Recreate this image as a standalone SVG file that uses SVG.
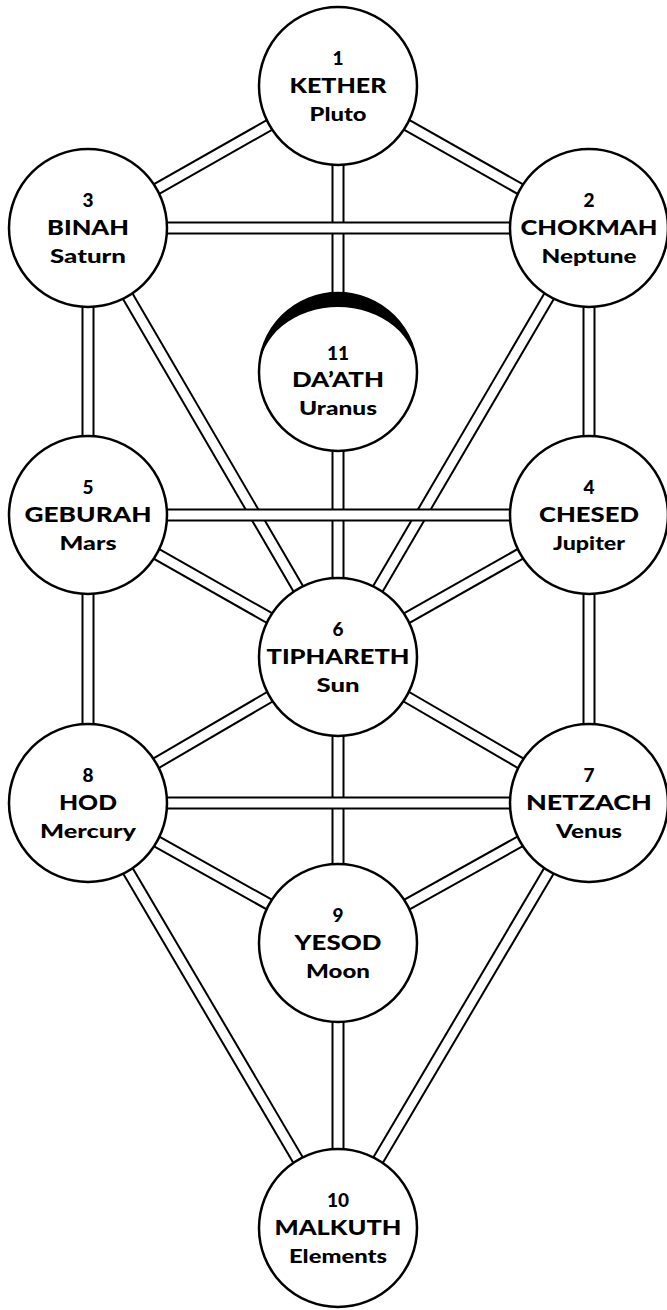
<svg xmlns="http://www.w3.org/2000/svg" width="667" height="1310" viewBox="0 0 667 1310">
<style>
.o{stroke:#000;stroke-width:13;fill:none}
.i{stroke:#fff;stroke-width:9;fill:none}
.n{fill:#fff;stroke:#000;stroke-width:2.5}
text{font-family:Lato,"Open Sans","DejaVu Sans",sans-serif;font-weight:900;text-anchor:middle;fill:#000}
.num{font-size:19px}
.nm{font-size:21px}
.pl{font-size:19px}
</style>
<rect width="667" height="1310" fill="#fff"/>
<g id="connectors">
<line class="o" x1="338" y1="86" x2="88" y2="228"/><line class="i" x1="338" y1="86" x2="88" y2="228"/>
<line class="o" x1="338" y1="86" x2="589" y2="228"/><line class="i" x1="338" y1="86" x2="589" y2="228"/>
<line class="o" x1="338" y1="86" x2="338" y2="657"/><line class="i" x1="338" y1="86" x2="338" y2="657"/>
<line class="o" x1="88" y1="228" x2="88" y2="515"/><line class="i" x1="88" y1="228" x2="88" y2="515"/>
<line class="o" x1="88" y1="228" x2="338" y2="657"/><line class="i" x1="88" y1="228" x2="338" y2="657"/>
<line class="o" x1="589" y1="228" x2="589" y2="515"/><line class="i" x1="589" y1="228" x2="589" y2="515"/>
<line class="o" x1="589" y1="228" x2="338" y2="657"/><line class="i" x1="589" y1="228" x2="338" y2="657"/>
<line class="o" x1="88" y1="515" x2="338" y2="657"/><line class="i" x1="88" y1="515" x2="338" y2="657"/>
<line class="o" x1="589" y1="515" x2="338" y2="657"/><line class="i" x1="589" y1="515" x2="338" y2="657"/>
<line class="o" x1="88" y1="515" x2="88" y2="803"/><line class="i" x1="88" y1="515" x2="88" y2="803"/>
<line class="o" x1="589" y1="515" x2="589" y2="803"/><line class="i" x1="589" y1="515" x2="589" y2="803"/>
<line class="o" x1="338" y1="657" x2="88" y2="803"/><line class="i" x1="338" y1="657" x2="88" y2="803"/>
<line class="o" x1="338" y1="657" x2="589" y2="803"/><line class="i" x1="338" y1="657" x2="589" y2="803"/>
<line class="o" x1="338" y1="657" x2="338" y2="943"/><line class="i" x1="338" y1="657" x2="338" y2="943"/>
<line class="o" x1="88" y1="803" x2="338" y2="943"/><line class="i" x1="88" y1="803" x2="338" y2="943"/>
<line class="o" x1="589" y1="803" x2="338" y2="943"/><line class="i" x1="589" y1="803" x2="338" y2="943"/>
<line class="o" x1="88" y1="803" x2="338" y2="1228"/><line class="i" x1="88" y1="803" x2="338" y2="1228"/>
<line class="o" x1="589" y1="803" x2="338" y2="1228"/><line class="i" x1="589" y1="803" x2="338" y2="1228"/>
<line class="o" x1="338" y1="943" x2="338" y2="1228"/><line class="i" x1="338" y1="943" x2="338" y2="1228"/>
<line class="o" x1="88" y1="228" x2="589" y2="228"/><line class="i" x1="88" y1="228" x2="589" y2="228"/>
<line class="o" x1="88" y1="515" x2="589" y2="515"/><line class="i" x1="88" y1="515" x2="589" y2="515"/>
<line class="o" x1="88" y1="803" x2="589" y2="803"/><line class="i" x1="88" y1="803" x2="589" y2="803"/>
</g>
<g id="kether"><circle class="n" cx="338" cy="86" r="79"/>
<text class="num" x="338" y="65">1</text><text class="nm" x="338" y="93" textLength="97" lengthAdjust="spacingAndGlyphs">KETHER</text><text class="pl" x="338" y="121" textLength="57" lengthAdjust="spacingAndGlyphs">Pluto</text></g>
<g id="chokmah"><circle class="n" cx="589" cy="228" r="79"/>
<text class="num" x="589" y="207">2</text><text class="nm" x="589" y="235" textLength="137" lengthAdjust="spacingAndGlyphs">CHOKMAH</text><text class="pl" x="589" y="263" textLength="95" lengthAdjust="spacingAndGlyphs">Neptune</text></g>
<g id="binah"><circle class="n" cx="88" cy="228" r="79"/>
<text class="num" x="88" y="207">3</text><text class="nm" x="88" y="235" textLength="82" lengthAdjust="spacingAndGlyphs">BINAH</text><text class="pl" x="88" y="263" textLength="76" lengthAdjust="spacingAndGlyphs">Saturn</text></g>
<g id="daath"><circle class="n" cx="338" cy="372" r="79"/>
<path d="M259,372 A79,79 0 0 1 417,372 A79,65 0 0 0 259,372 Z" fill="#000"/>
<text class="num" x="338" y="360">11</text><text class="nm" x="338" y="387" textLength="92" lengthAdjust="spacingAndGlyphs">DA’ATH</text><text class="pl" x="338" y="415" textLength="78" lengthAdjust="spacingAndGlyphs">Uranus</text></g>
<g id="geburah"><circle class="n" cx="88" cy="515" r="79"/>
<text class="num" x="88" y="494">5</text><text class="nm" x="88" y="522" textLength="127" lengthAdjust="spacingAndGlyphs">GEBURAH</text><text class="pl" x="88" y="550" textLength="57" lengthAdjust="spacingAndGlyphs">Mars</text></g>
<g id="chesed"><circle class="n" cx="589" cy="515" r="79"/>
<text class="num" x="589" y="494">4</text><text class="nm" x="589" y="522" textLength="100" lengthAdjust="spacingAndGlyphs">CHESED</text><text class="pl" x="589" y="550" textLength="72" lengthAdjust="spacingAndGlyphs">Jupiter</text></g>
<g id="tiphareth"><circle class="n" cx="338" cy="657" r="79"/>
<text class="num" x="338" y="636">6</text><text class="nm" x="338" y="664" textLength="143" lengthAdjust="spacingAndGlyphs">TIPHARETH</text><text class="pl" x="338" y="692" textLength="43" lengthAdjust="spacingAndGlyphs">Sun</text></g>
<g id="hod"><circle class="n" cx="88" cy="803" r="79"/>
<text class="num" x="88" y="782">8</text><text class="nm" x="88" y="810" textLength="58" lengthAdjust="spacingAndGlyphs">HOD</text><text class="pl" x="88" y="838" textLength="96" lengthAdjust="spacingAndGlyphs">Mercury</text></g>
<g id="netzach"><circle class="n" cx="589" cy="803" r="79"/>
<text class="num" x="589" y="782">7</text><text class="nm" x="589" y="810" textLength="126" lengthAdjust="spacingAndGlyphs">NETZACH</text><text class="pl" x="589" y="838" textLength="66" lengthAdjust="spacingAndGlyphs">Venus</text></g>
<g id="yesod"><circle class="n" cx="338" cy="943" r="79"/>
<text class="num" x="338" y="922">9</text><text class="nm" x="338" y="950" textLength="87" lengthAdjust="spacingAndGlyphs">YESOD</text><text class="pl" x="338" y="978" textLength="64" lengthAdjust="spacingAndGlyphs">Moon</text></g>
<g id="malkuth"><circle class="n" cx="338" cy="1228" r="79"/>
<text class="num" x="338" y="1207">10</text><text class="nm" x="338" y="1235" textLength="127" lengthAdjust="spacingAndGlyphs">MALKUTH</text><text class="pl" x="338" y="1263" textLength="98" lengthAdjust="spacingAndGlyphs">Elements</text></g>
</svg>
